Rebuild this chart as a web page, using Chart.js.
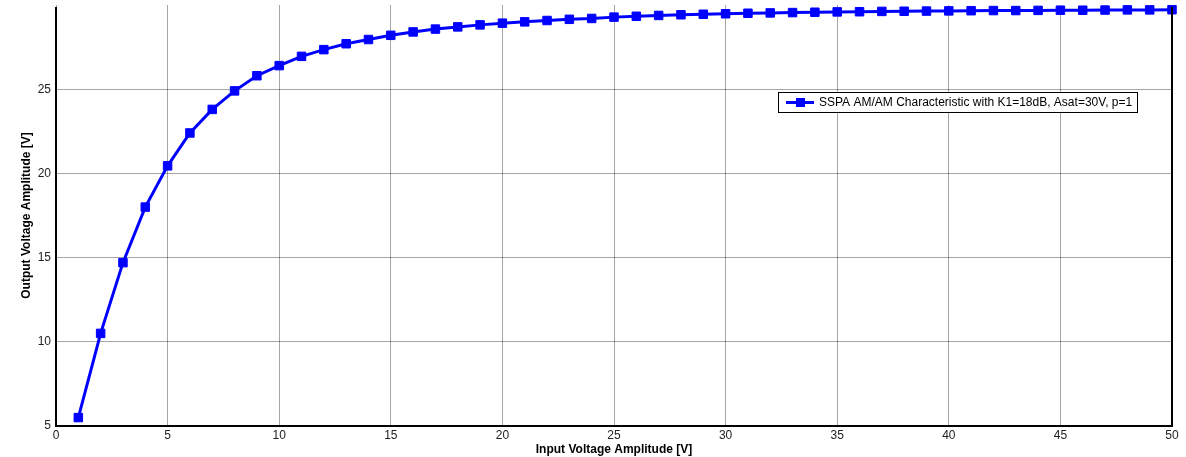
<!DOCTYPE html>
<html>
<head>
<meta charset="utf-8">
<script src="https://cdn.jsdelivr.net/npm/chart.js@4/dist/chart.umd.min.js"></script>
<style>
  html, body { margin: 0; padding: 0; background: #fff; }
  #wrap { width: 1186px; height: 457px; }
</style>
</head>
<body>
<div id="wrap"><canvas id="amam-chart" width="1186" height="457"></canvas></div>
<script>
const inputVoltage = [1, 2, 3, 4, 5, 6, 7, 8, 9, 10,
  11, 12, 13, 14, 15, 16, 17, 18, 19, 20,
  21, 22, 23, 24, 25, 26, 27, 28, 29, 30,
  31, 32, 33, 34, 35, 36, 37, 38, 39, 40,
  41, 42, 43, 44, 45, 46, 47, 48, 49, 50];
const outputVoltage = [5.5, 10.5, 14.7, 18.0, 20.45, 22.4, 23.8, 24.9, 25.8, 26.4,
  26.95, 27.35, 27.7, 27.95, 28.2, 28.4, 28.57, 28.7, 28.82, 28.92,
  29.0, 29.08, 29.15, 29.2, 29.28, 29.33, 29.38, 29.42, 29.45, 29.48,
  29.51, 29.53, 29.55, 29.57, 29.59, 29.6, 29.62, 29.63, 29.64, 29.65,
  29.66, 29.67, 29.67, 29.68, 29.69, 29.69, 29.7, 29.71, 29.71, 29.72];
const xTicks = [0, 5, 10, 15, 20, 25, 30, 35, 40, 45, 50];
const yTicks = [5, 10, 15, 20, 25, 30];
const seriesLabel = 'SSPA AM/AM Characteristic with K1=18dB, Asat=30V, p=1';

const font = "Helvetica, Arial, 'Liberation Sans', sans-serif";
const yTop = yTicks[yTicks.length - 1];

// legend drawn as a boxed key inside the plot, like the matlab figure
const boxLegend = {
  id: 'boxLegend',
  afterDraw(chart) {
    const ctx = chart.ctx;
    const x = 778, y = 92, w = 359, h = 20;
    ctx.save();
    ctx.fillStyle = '#fff';
    ctx.fillRect(x, y, w, h);
    ctx.strokeStyle = '#000';
    ctx.lineWidth = 1;
    ctx.strokeRect(x + 0.5, y + 0.5, w, h);
    ctx.strokeStyle = '#0000ff';
    ctx.lineWidth = 3;
    ctx.beginPath();
    ctx.moveTo(786, y + 10.5);
    ctx.lineTo(814, y + 10.5);
    ctx.stroke();
    ctx.fillStyle = '#0000ff';
    ctx.fillRect(796, y + 6, 9, 9);
    ctx.fillStyle = '#000';
    ctx.font = '12px ' + font;
    ctx.textBaseline = 'middle';
    ctx.fillText(seriesLabel, 819, y + 11);
    ctx.restore();
  }
};

// black frame on left, bottom and right, plus the top tick label the crop cuts off
const frame = {
  id: 'frame',
  afterDatasetsDraw(chart) {
    const a = chart.chartArea, ctx = chart.ctx;
    ctx.save();
    ctx.strokeStyle = '#000';
    ctx.lineWidth = 2;
    ctx.beginPath();
    ctx.moveTo(a.left, a.top + 2);
    ctx.lineTo(a.left, a.bottom);
    ctx.lineTo(a.right, a.bottom);
    ctx.lineTo(a.right, a.top + 2);
    ctx.stroke();
    ctx.fillStyle = '#222';
    ctx.font = '12px ' + font;
    ctx.textAlign = 'right';
    ctx.textBaseline = 'middle';
    const yPix = chart.scales.y.getPixelForValue(yTop);
    ctx.fillText(String(yTop), a.left - 5, yPix - 8);
    ctx.restore();
  }
};

new Chart(document.getElementById('amam-chart'), {
  type: 'line',
  data: {
    datasets: [{
      label: seriesLabel,
      data: inputVoltage.map((v, i) => ({ x: v, y: outputVoltage[i] })),
      borderColor: '#0000ff',
      backgroundColor: '#0000ff',
      borderWidth: 3,
      pointStyle: 'rect',
      pointRadius: 6,
      pointBorderWidth: 1,
      tension: 0,
      clip: false
    }]
  },
  options: {
    responsive: false,
    animation: false,
    layout: { autoPadding: false, padding: { top: 5, right: 14, left: 0, bottom: 0 } },
    plugins: { legend: { display: false }, tooltip: { enabled: false } },
    scales: {
      x: {
        type: 'linear',
        min: 0, max: 50,
        afterBuildTicks: s => { s.ticks = xTicks.map(v => ({ value: v })); },
        afterFit: s => { s.height = 31; },
        grid: { color: 'rgba(0,0,0,0.35)', lineWidth: 1, drawTicks: false },
        border: { display: false },
        ticks: { color: '#222', font: { family: font, size: 12 }, padding: 2, maxRotation: 0 },
        title: {
          display: true, text: 'Input Voltage Amplitude [V]', color: '#000',
          font: { family: font, size: 12, weight: 'bold' }, padding: { top: 0, bottom: 0 }
        }
      },
      y: {
        type: 'linear',
        min: 5, max: yTop,
        // top tick sits on the cropped edge: drawn by the frame plugin instead
        afterBuildTicks: s => { s.ticks = yTicks.filter(v => v !== yTop).map(v => ({ value: v })); },
        afterFit: s => { s.width = 56; s.paddingTop = 0; },
        grid: { color: 'rgba(0,0,0,0.35)', lineWidth: 1, drawTicks: false },
        border: { display: false },
        ticks: { color: '#222', font: { family: font, size: 12 }, padding: 5 },
        title: {
          display: true, text: 'Output Voltage Amplitude [V]', color: '#000',
          font: { family: font, size: 12, weight: 'bold' }, padding: { top: 19, bottom: 0 }
        }
      }
    }
  },
  plugins: [frame, boxLegend]
});
</script>
</body>
</html>
